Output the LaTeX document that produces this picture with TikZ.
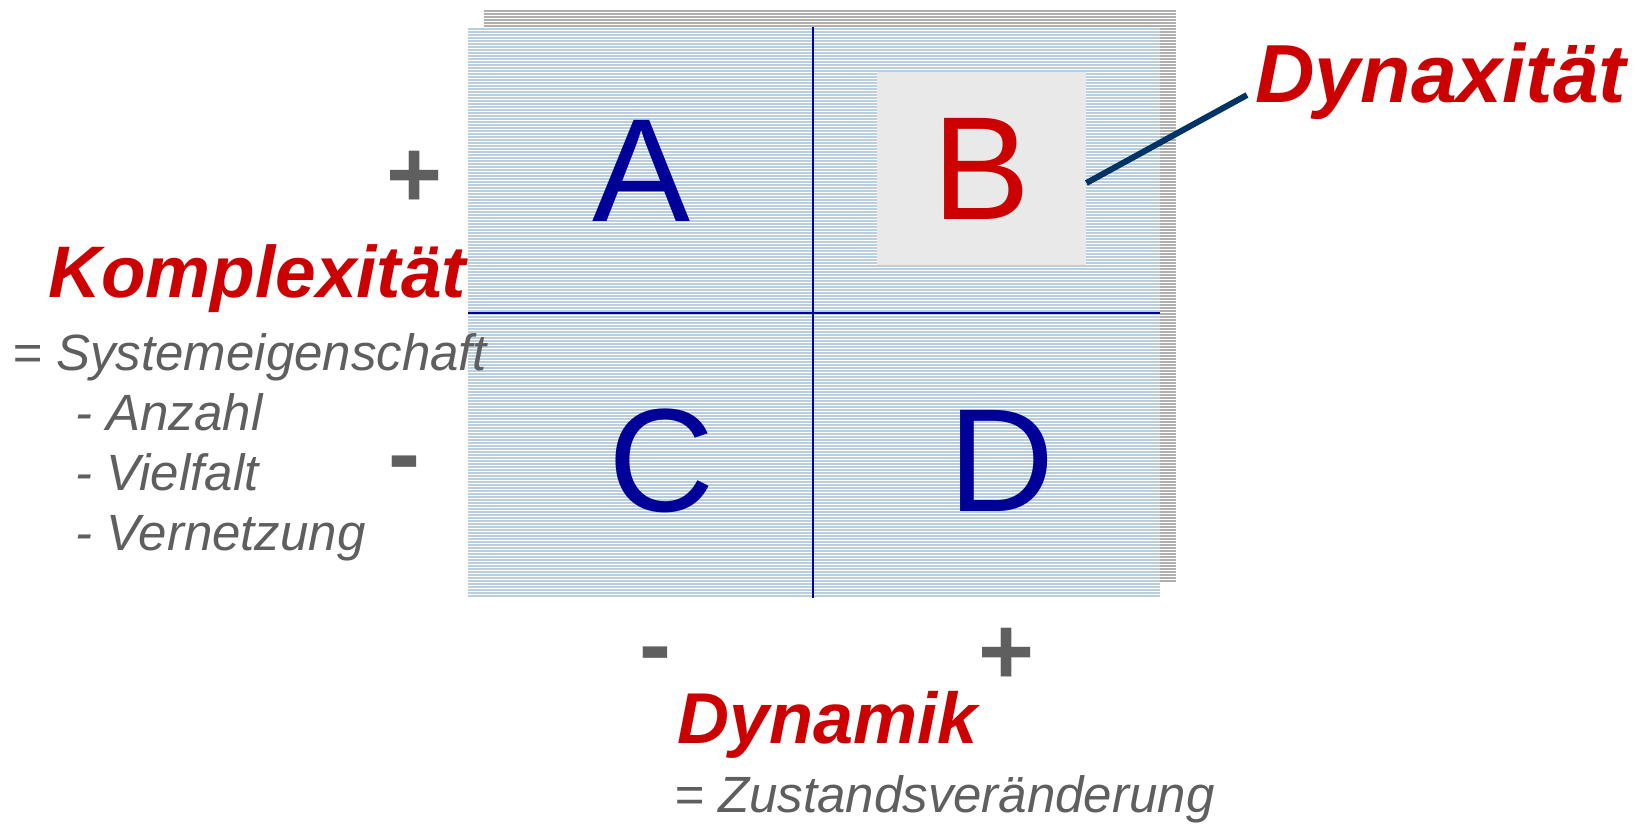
\documentclass[tikz,border=0pt]{standalone}
\usepackage{fontspec}
\setmainfont{Liberation Sans}
\usetikzlibrary{positioning}

\definecolor{stripeblue}{HTML}{BBCEDD}
\definecolor{shadowgray}{HTML}{AFAFAF}
\definecolor{boxgray}{HTML}{E9E9E9}
\definecolor{axisblue}{HTML}{0000A0}
\definecolor{letterblue}{HTML}{000099}
\definecolor{titlered}{HTML}{CC0000}
\definecolor{textgray}{HTML}{5F5F5F}
\definecolor{linknavy}{HTML}{003366}

\tikzset{
  quadletter/.style={text=letterblue, font=\fontsize{73.5}{80}\selectfont, inner sep=0pt, anchor=base},
  axistitle/.style={text=titlered, font=\bfseries\itshape\fontsize{#1}{#1}\selectfont, inner sep=0pt, anchor=base west},
  axisnote/.style={text=textgray, font=\itshape\fontsize{25.5}{30}\selectfont, inner sep=0pt, anchor=base west},
  signmark/.style={text=textgray, font=\bfseries\fontsize{48}{52}\selectfont, inner sep=0pt, anchor=base},
}

\begin{document}
\begin{tikzpicture}[x=0.5pt, y=-0.5pt]
  \useasboundingbox (0,0) rectangle (1641,824);
  % Shadow behind the field
  \fill[shadowgray] (484,10) rectangle (1176,582);
  % Field
  \fill[stripeblue] (468,27) rectangle (1160,598);
  % White stripes
  \foreach \k in {0,...,195}
    \draw[white, line width=0.4pt] (468,12.5+3*\k) -- (1176,12.5+3*\k);
  % Axes
  \draw[axisblue, line width=1pt] (813,27) -- (813,598);
  \draw[axisblue, line width=1pt] (468,313) -- (1160,313);
  % Highlighted quadrant
  \node[fill=boxgray, minimum width=104.5pt, minimum height=96.5pt, inner sep=0pt,
        text=titlered, font=\fontsize{73.5}{80}\selectfont] (bbox) at (981.5,168.5) {B};
  % Quadrant letters
  \node[quadletter] (qa) at (642,221) {A};
  \node[quadletter] (qc) at (661.5,511) {C};
  \node[quadletter] (qd) at (1002,511) {D};
  % Titles
  \node[axistitle=41.2] (dynax) at (1255,103) {Dynaxität};
  \node[axistitle=36.5] (kompl) at (48,297) {Komplexität};
  \node[axistitle=36] (dynam) at (677,743) {Dynamik};
  % Notes
  \node[axisnote] (sysnote) at (12,370) {= Systemeigenschaft};
  \node[axisnote] (anzahl) at (75,430) {- Anzahl};
  \node[axisnote] (vielfalt) at (75,490) {- Vielfalt};
  \node[axisnote] (vernetz) at (75,550) {- Vernetzung};
  \node[axisnote] (zustand) at (674,812) {= Zustandsveränderung};
  % Signs
  \node[signmark] (kplus) at (415,207) {+};
  \node[signmark] (kminus) at (404,486) {-};
  \node[signmark] (dminus) at (655,677) {-};
  \node[signmark] (dplus) at (1007,684) {+};
  % Link from B to its title
  \coordinate (dyntip) at (1247,95);
  \draw[linknavy, line width=3pt] ([yshift=-7.25pt]bbox.east) -- (dyntip);
\end{tikzpicture}
\end{document}
